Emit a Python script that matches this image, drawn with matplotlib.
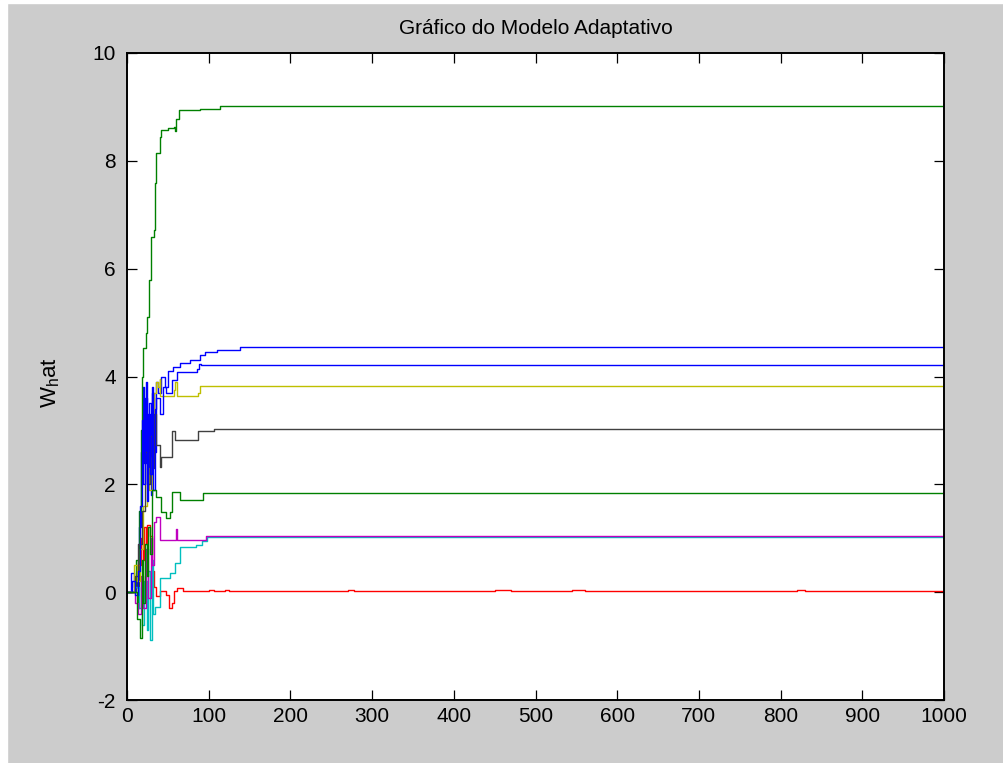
# -*- coding: utf-8 -*-
import numpy as np
import matplotlib
matplotlib.use('Agg')
import matplotlib.pyplot as plt
from matplotlib.patches import Rectangle

# weight trajectories (iteration, value) read at the breakpoints
it_b1 = [0, 5, 8, 12, 15, 17, 19, 21, 23, 25, 27, 29, 31, 33, 35, 38, 42, 46, 50, 56, 65, 77, 89, 95, 110, 138, 1000]
w_b1 = [0.0, 0.35, 0.1, 0.3, 1.2, 2.6, 3.8, 2.4, 3.9, 2.0, 3.5, 1.8, 3.7, 2.6, 3.9, 3.7, 4.0, 3.8, 4.1, 4.18, 4.25, 4.31, 4.40, 4.46, 4.49, 4.54, 4.54]

it_g1 = [0, 8, 11, 13, 15, 17, 18, 20, 23, 25, 27, 29, 33, 34, 36, 40, 42, 50, 57, 59, 60, 64, 85, 89, 114, 1000]
w_g1 = [0.0, 0.0, 0.6, -0.3, 1.5, 3.0, 4.0, 4.53, 4.81, 5.11, 5.79, 6.59, 6.72, 7.59, 8.15, 8.45, 8.57, 8.6, 8.63, 8.55, 8.78, 8.94, 8.94, 8.97, 9.02, 9.02]

it_r = [0, 10, 14, 17, 19, 21, 23, 25, 28, 30, 33, 36, 41, 48, 52, 55, 58, 61, 68, 100, 107, 120, 125, 270, 278, 450, 470, 545, 560, 820, 830, 1000]
w_r = [0.0, 0.1, 0.5, 1.0, 0.6, 1.2, 0.9, 1.25, 1.05, 0.4, 0.1, -0.07, 0.02, -0.05, -0.3, -0.2, 0.02, 0.07, 0.02, 0.04, 0.02, 0.04, 0.02, 0.04, 0.02, 0.04, 0.02, 0.04, 0.02, 0.04, 0.02, 0.02]

it_c = [0, 10, 15, 18, 21, 24, 26, 28, 30, 32, 34, 40, 53, 59, 65, 85, 92, 98, 1000]
w_c = [0.0, 0.1, -0.3, -0.6, 0.2, -0.7, 0.4, -0.88, 0.6, -0.4, -0.27, 0.26, 0.36, 0.54, 0.84, 0.88, 0.95, 1.02, 1.02]

it_m = [0, 10, 14, 17, 20, 23, 26, 29, 31, 33, 36, 40, 60, 61, 62, 97, 1000]
w_m = [0.0, -0.2, -0.4, 0.3, -0.3, 0.8, -0.1, 1.0, 0.5, 1.3, 1.40, 0.97, 1.17, 0.97, 0.97, 1.04, 1.04]

it_y = [0, 8, 12, 16, 20, 24, 27, 30, 33, 36, 38, 40, 41, 50, 57, 59, 61, 87, 89, 1000]
w_y = [0.0, 0.5, 0.2, 0.8, 1.6, 2.3, 1.9, 2.5, 3.7, 3.9, 3.8, 3.96, 3.63, 3.63, 3.75, 3.9, 3.63, 3.69, 3.83, 3.83]

it_k = [0, 10, 14, 18, 22, 26, 28, 30, 33, 36, 40, 42, 53, 55, 59, 85, 87, 106, 1000]
w_k = [0.0, 0.3, 0.9, 1.5, 2.6, 2.0, 2.9, 2.3, 3.3, 2.73, 2.33, 2.51, 2.51, 2.98, 2.82, 2.82, 2.98, 3.03, 3.03]

it_b2 = [0, 6, 10, 14, 16, 18, 20, 22, 24, 26, 28, 30, 32, 34, 36, 40, 44, 48, 55, 61, 86, 88, 91, 1000]
w_b2 = [0.0, 0.2, -0.05, 0.4, 1.6, 3.2, 2.0, 3.6, 1.7, 3.3, 2.2, 3.8, 1.9, 3.4, 3.6, 3.3, 3.8, 3.7, 3.94, 4.09, 4.14, 4.23, 4.22, 4.22]

it_g2 = [0, 8, 12, 16, 18, 20, 22, 24, 26, 28, 30, 32, 36, 42, 48, 53, 55, 65, 83, 93, 1000]
w_g2 = [0.0, 0.0, -0.5, -0.85, 0.6, -0.2, 0.9, 0.3, 1.2, 0.7, 1.9, 1.89, 1.77, 1.49, 1.37, 1.49, 1.86, 1.71, 1.71, 1.84, 1.84]

xticks = np.arange(0, 1001, 100)
yticks = np.arange(-2, 11, 2)

plt.rcParams['font.family'] = ['Liberation Sans Narrow', 'Liberation Sans', 'DejaVu Sans']
plt.rcParams['axes.unicode_minus'] = False

fig = plt.figure(figsize=(10.04, 7.63), dpi=100, facecolor='#cccccc')
fig.patches.append(Rectangle((0, 0), 7/1004, 1, transform=fig.transFigure,
                             color='white', zorder=0))
fig.patches.append(Rectangle((0, 1 - 3/763), 1, 3/763, transform=fig.transFigure,
                             color='white', zorder=0))

ax = fig.add_axes([127/1004, 63/763, 817/1004, 647/763])

series = [(it_b1, w_b1, (0, 0, 1)),
          (it_g1, w_g1, (0, 0.5, 0)),
          (it_r, w_r, (1, 0, 0)),
          (it_c, w_c, (0, 0.75, 0.75)),
          (it_m, w_m, (0.75, 0, 0.75)),
          (it_y, w_y, (0.75, 0.75, 0)),
          (it_k, w_k, (0.25, 0.25, 0.25)),
          (it_b2, w_b2, (0, 0, 1)),
          (it_g2, w_g2, (0, 0.5, 0))]
for xs, ys, col in series:
    ax.plot(xs, ys, color=col, lw=1.0, drawstyle='steps-post')

ax.set_xlim(0, 1000)
ax.set_ylim(-2, 10)
ax.set_xticks(xticks)
ax.set_yticks(yticks)
ax.tick_params(direction='in', length=7, width=0.9, top=True, right=True,
               labelsize=15, colors='black')
ax.tick_params(axis='x', pad=5)
ax.tick_params(axis='y', pad=8)
for sp in ax.spines.values():
    sp.set_linewidth(1.4)

ax.set_title(u'Gráfico do Modelo Adaptativo', fontsize=15, pad=14)
ax.set_ylabel(r'$\mathregular{W_h}$at', fontsize=16)
ax.yaxis.set_label_coords(-0.08, 0.49)

plt.savefig('out.png', dpi=100, facecolor=fig.get_facecolor())
